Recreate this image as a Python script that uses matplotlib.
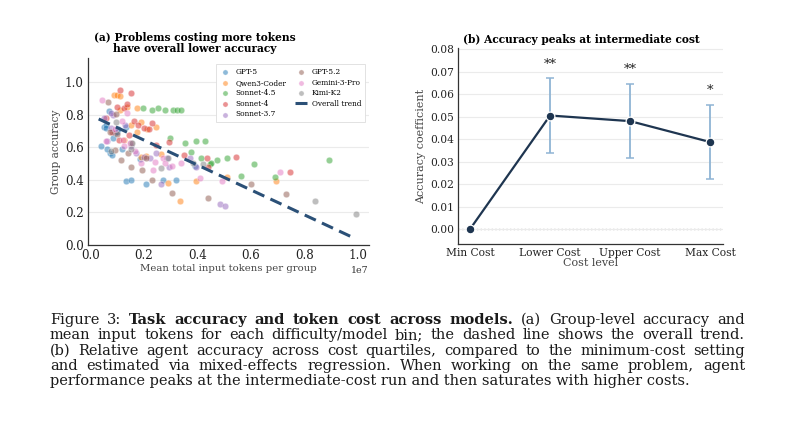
import matplotlib
matplotlib.use("Agg")
import matplotlib.pyplot as plt
import numpy as np

plt.rcParams['font.family'] = ['DejaVu Serif']

# ---------------- data: panel (a) ----------------
# x values: mean total input tokens per group, in units of 1e7
models = ["GPT-5", "Qwen3-Coder", "Sonnet-4.5", "Sonnet-4", "Sonnet-3.7",
          "GPT-5.2", "Gemini-3-Pro", "Kimi-K2"]
model_colors = ["#1f77b4", "#ff7f0e", "#2ca02c", "#d62728", "#9467bd",
                "#8c564b", "#e377c2", "#7f7f7f"]

gpt5_x = [0.037, 0.049, 0.057, 0.067, 0.071, 0.080, 0.084, 0.090, 0.099, 0.103,
          0.061, 0.133, 0.150, 0.208, 0.270, 0.318, 0.117, 0.056, 0.183, 0.133, 0.389]
gpt5_y = [0.61, 0.727, 0.738, 0.824, 0.564, 0.553, 0.656, 0.686, 0.697, 0.713,
          0.59, 0.393, 0.40, 0.373, 0.40, 0.40, 0.59, 0.72, 0.528, 0.727, 0.486]

qwen_x = [0.086, 0.099, 0.111, 0.136, 0.173, 0.150, 0.190, 0.210, 0.243, 0.173,
          0.123, 0.264, 0.208, 0.289, 0.333, 0.393, 0.511, 0.694, 0.190, 0.111]
qwen_y = [0.922, 0.922, 0.916, 0.846, 0.844, 0.738, 0.758, 0.713, 0.723, 0.693,
          0.645, 0.557, 0.549, 0.379, 0.27, 0.393, 0.42, 0.393, 0.543, 0.83]

s45_x = [0.196, 0.231, 0.252, 0.277, 0.310, 0.324, 0.337, 0.296, 0.354, 0.374,
         0.393, 0.429, 0.414, 0.448, 0.474, 0.511, 0.561, 0.613, 0.691, 0.894, 0.451]
s45_y = [0.84, 0.83, 0.844, 0.83, 0.83, 0.83, 0.83, 0.656, 0.629, 0.574,
         0.641, 0.641, 0.537, 0.496, 0.523, 0.537, 0.426, 0.496, 0.416, 0.523, 0.502]

s4_x = [0.111, 0.152, 0.099, 0.124, 0.137, 0.059, 0.162, 0.177, 0.200, 0.231,
        0.217, 0.142, 0.106, 0.293, 0.351, 0.436, 0.439, 0.545, 0.747, 0.246, 0.081]
s4_y = [0.951, 0.932, 0.85, 0.844, 0.867, 0.779, 0.762, 0.738, 0.717, 0.752,
        0.713, 0.676, 0.645, 0.631, 0.553, 0.533, 0.477, 0.543, 0.451, 0.615, 0.697]

s37_x = [0.049, 0.084, 0.075, 0.077, 0.127, 0.152, 0.171, 0.200, 0.243, 0.221,
         0.287, 0.370, 0.393, 0.293, 0.262, 0.483, 0.502, 0.062]
s37_y = [0.779, 0.80, 0.809, 0.717, 0.738, 0.609, 0.564, 0.543, 0.564, 0.533,
         0.533, 0.533, 0.482, 0.482, 0.373, 0.252, 0.242, 0.639]

gpt52_x = [0.066, 0.094, 0.074, 0.100, 0.115, 0.152, 0.140, 0.193, 0.231, 0.305,
           0.439, 0.601, 0.732, 0.090, 0.208, 0.152]
gpt52_y = [0.881, 0.803, 0.693, 0.68, 0.523, 0.482, 0.564, 0.461, 0.40, 0.322,
           0.291, 0.373, 0.311, 0.584, 0.537, 0.625]

gem_x = [0.044, 0.137, 0.118, 0.092, 0.059, 0.121, 0.146, 0.165, 0.190, 0.233,
         0.270, 0.277, 0.303, 0.408, 0.493, 0.709, 0.239, 0.340, 0.125]
gem_y = [0.893, 0.809, 0.762, 0.711, 0.639, 0.645, 0.625, 0.578, 0.506, 0.461,
         0.533, 0.506, 0.486, 0.41, 0.395, 0.451, 0.512, 0.502, 0.61]

kimi_x = [0.096, 0.077, 0.156, 0.152, 0.264, 0.289, 0.383, 0.420, 0.838, 0.994]
kimi_y = [0.758, 0.578, 0.625, 0.59, 0.471, 0.537, 0.506, 0.496, 0.27, 0.191]

series_x = [gpt5_x, qwen_x, s45_x, s4_x, s37_x, gpt52_x, gem_x, kimi_x]
series_y = [gpt5_y, qwen_y, s45_y, s4_y, s37_y, gpt52_y, gem_y, kimi_y]

trend_x = [0.03, 0.99]
trend_y = [0.775, 0.04]

# ---------------- data: panel (b) ----------------
cost_levels = ["Min Cost", "Lower Cost", "Upper Cost", "Max Cost"]
coef = [0.0, 0.0505, 0.048, 0.0387]
ci_low = [0.0, 0.034, 0.0315, 0.0222]
ci_high = [0.0, 0.067, 0.0645, 0.0553]
stars = ["", "**", "**", "*"]

# ---------------- caption ----------------
caption_line1 = [("Figure", "normal"), ("3:", "normal"),
                 ("Task", "bold"), ("accuracy", "bold"), ("and", "bold"), ("token", "bold"),
                 ("cost", "bold"), ("across", "bold"), ("models.", "bold"),
                 ("(a)", "normal"), ("Group-level", "normal"), ("accuracy", "normal"), ("and", "normal")]
caption_lines = [
    "mean input tokens for each difficulty/model bin; the dashed line shows the overall trend.",
    "(b) Relative agent accuracy across cost quartiles, compared to the minimum-cost setting",
    "and estimated via mixed-effects regression. When working on the same problem, agent",
    "performance peaks at the intermediate-cost run and then saturates with higher costs.",
]

W, H = 800, 433
fig = plt.figure(figsize=(W / 100, H / 100), dpi=100)

def frac_box(l, t, r, b):
    return [l / W, 1 - b / H, (r - l) / W, (b - t) / H]

grid_color = "#ebebeb"
spine_color = "#333333"
label_color = "#444444"

# ---------------- panel (a) ----------------
ax1 = fig.add_axes(frac_box(88, 58, 369, 245))
for name, col, xs, ys in zip(models, model_colors, series_x, series_y):
    ax1.scatter(np.array(xs) * 1e7, ys, s=22, color=col, alpha=0.5,
                edgecolors="white", linewidths=0.4, label=name, zorder=3)
ax1.plot(np.array(trend_x) * 1e7, trend_y, ls=(0, (4, 2.2)), color="#2b5077",
         lw=2.2, label="Overall trend", zorder=4)
ax1.set_xlim(-0.01e7, 1.042e7)
ax1.set_ylim(0, 1.15)
ax1.set_yticks([0.0, 0.2, 0.4, 0.6, 0.8, 1.0])
ax1.set_xticks([0.0, 0.2e7, 0.4e7, 0.6e7, 0.8e7, 1.0e7])
ax1.grid(axis="y", color=grid_color, lw=0.8, zorder=0)
ax1.grid(axis="x", visible=False)
for sp in ["top", "right"]:
    ax1.spines[sp].set_visible(False)
for sp in ["left", "bottom"]:
    ax1.spines[sp].set_color(spine_color)
    ax1.spines[sp].set_linewidth(0.9)
ax1.tick_params(length=0, labelsize=8.6, pad=3, colors="#222222")
ax1.xaxis.get_offset_text().set_fontsize(6.8)
ax1.xaxis.get_offset_text().set_color("#333333")
ax1.set_xlabel("Mean total input tokens per group", fontsize=7.3, color=label_color, labelpad=1)
ax1.set_ylabel("Group accuracy", fontsize=7.6, color=label_color, labelpad=3)
ax1.text(0.38, 1.02, "(a) Problems costing more tokens\nhave overall lower accuracy",
         transform=ax1.transAxes, ha="center", va="bottom", fontsize=7.7,
         fontweight="bold", linespacing=1.0)
leg = ax1.legend(ncol=2, loc="upper right", bbox_to_anchor=(0.998, 0.985), fontsize=5.3,
                 frameon=True, framealpha=1.0, edgecolor="#dddddd", fancybox=False,
                 handlelength=1.6, handletextpad=0.6, columnspacing=1.2, labelspacing=0.35,
                 borderpad=0.5, markerscale=0.8)
leg.get_frame().set_linewidth(0.6)

# ---------------- panel (b) ----------------
ax2 = fig.add_axes(frac_box(458, 48, 723, 244))
xpos = np.arange(len(cost_levels))
lo_err = [c - l for c, l in zip(coef[1:], ci_low[1:])]
hi_err = [h - c for c, h in zip(coef[1:], ci_high[1:])]
ax2.errorbar(xpos[1:], coef[1:], yerr=[lo_err, hi_err], fmt="none",
             ecolor="#8fb4d4", elinewidth=1.3, capsize=3, capthick=1.1, zorder=2)
ax2.axhline(0, color="#aaaaaa", ls=":", lw=1.0, zorder=1)
ax2.plot(xpos, coef, color="#1e3550", lw=1.6, marker="o", markersize=6.3,
         markerfacecolor="#1e3550", markeredgecolor="white", markeredgewidth=0.9, zorder=3)
for x, h, s in zip(xpos, ci_high, stars):
    if s:
        ax2.text(x, h + 0.0035, s, ha="center", va="bottom", fontsize=9.5, color="#222222")
ax2.set_xlim(-0.15, 3.16)
ax2.set_ylim(-0.0066, 0.0805)
ax2.set_yticks(np.arange(0, 0.081, 0.01))
ax2.yaxis.set_major_formatter(matplotlib.ticker.FormatStrFormatter("%.2f"))
ax2.set_xticks(xpos)
ax2.set_xticklabels(cost_levels)
ax2.grid(axis="y", color=grid_color, lw=0.8, zorder=0)
for sp in ["top", "right"]:
    ax2.spines[sp].set_visible(False)
for sp in ["left", "bottom"]:
    ax2.spines[sp].set_color(spine_color)
    ax2.spines[sp].set_linewidth(0.9)
ax2.tick_params(length=0, labelsize=7.7, pad=3, colors="#222222")
ax2.set_xlabel("Cost level", fontsize=8.0, color=label_color, labelpad=0)
ax2.set_ylabel("Accuracy coefficient", fontsize=8.0, color=label_color, labelpad=3)
ax2.text(0.464, 1.015, "(b) Accuracy peaks at intermediate cost", transform=ax2.transAxes,
         ha="center", va="bottom", fontsize=7.7, fontweight="bold")

# ---------------- caption (justified) ----------------
fig.canvas.draw()
renderer = fig.canvas.get_renderer()
cap_family = "DejaVu Serif"
x_left, x_right = 50, 745
span = x_right - x_left
last_line_width = 642
baselines = [324, 339.3, 354.6, 370, 385.2]

def measure(s, weight, size):
    t = fig.text(0, 0, s, fontsize=size, fontweight=weight, family=cap_family)
    w = t.get_window_extent(renderer).width
    t.remove()
    return w

line1_tokens = [(w, wt) for w, wt in caption_line1]
body_tokens = [[(w, "normal") for w in ln.split(" ")] for ln in caption_lines[:-1]]
space10 = measure("a a", "normal", 10) - measure("aa", "normal", 10)

# caption size: the last (unjustified) line spans the same width as in the reference,
# but never so large that a justified line would overflow
scales = [last_line_width / measure(caption_lines[-1], "normal", 10)]
for toks in body_tokens:
    nat = sum(measure(w, wt, 10) for w, wt in toks) + space10 * (len(toks) - 1)
    scales.append(span / nat)
cap_size = 10 * min(scales)
space = space10 * cap_size / 10

def bold_size(tokens):
    # shrink the bold run of the first line if it would not fit with normal spacing
    reg = sum(measure(w, wt, cap_size) for w, wt in tokens if wt == "normal")
    bold = sum(measure(w, wt, cap_size) for w, wt in tokens if wt == "bold")
    avail = span - reg - space * (len(tokens) - 1)
    return cap_size * min(1.0, avail / bold) if bold > 0 else cap_size

def justify(tokens, baseline):
    bsize = bold_size(tokens)
    szs = [bsize if wt == "bold" else cap_size for w, wt in tokens]
    widths = [measure(w, wt, sz) for (w, wt), sz in zip(tokens, szs)]
    gap = (span - sum(widths)) / (len(tokens) - 1)
    x = x_left
    for (w, wt), wd, sz in zip(tokens, widths, szs):
        fig.text(x / W, 1 - baseline / H, w, fontsize=sz, fontweight=wt,
                 family=cap_family, ha="left", va="baseline", color="#1a1a1a")
        x += wd + gap

justify(line1_tokens, baselines[0])
for toks, bl in zip(body_tokens, baselines[1:-1]):
    justify(toks, bl)
fig.text(x_left / W, 1 - baselines[-1] / H, caption_lines[-1], fontsize=cap_size,
         family=cap_family, ha="left", va="baseline", color="#1a1a1a")

fig.savefig("out.png", dpi=100, facecolor="white")
